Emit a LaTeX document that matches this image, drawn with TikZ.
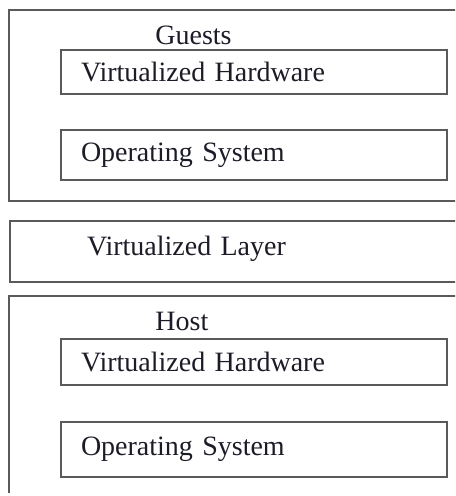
\documentclass[tikz,border=0pt]{standalone}
\usepackage{fontspec}
\setmainfont{Liberation Serif}
\usetikzlibrary{positioning}
\definecolor{borde}{HTML}{5A5A5A}
\definecolor{texto}{HTML}{1C1C28}
\tikzset{
  caja/.style={draw=borde, line width=1pt, text=texto, anchor=north west,
    inner xsep=10pt, inner ysep=0pt, text width=173pt, align=left},
  rotulo/.style={texto, anchor=west, inner sep=0pt},
}

\begin{document}
\begin{tikzpicture}[font=\fontsize{14}{16}\selectfont, x=0.5pt, y=-0.5pt]
  \useasboundingbox (0,0) rectangle (455,496);
  \clip (0,0) rectangle (455,496);
  % outer frames, cut by the page edge
  \draw[borde, line width=1pt] (9,10) rectangle (480,201);
  \draw[borde, line width=1pt] (480,296) -- (9,296) -- (9,493);
  \node[rotulo] (guests) at (155,35) {Guests};
  \node[rotulo] (host) at (155,321) {Host};
  \node[caja, inner xsep=38.5pt, text width=190pt, text depth=6pt, minimum height=30.5pt] (capa) at (9,220) {Virtualized Layer};
  \foreach \y/\h/\t/\n in {49/22pt/Virtualized Hardware/ghw, 129/25pt/Operating System/gos,
      338/23pt/Virtualized Hardware/hhw, 421/27.5pt/Operating System/hos} {
    \node[caja, minimum height=\h] (\n) at (60,\y) {\t};
  }
\end{tikzpicture}
\end{document}
